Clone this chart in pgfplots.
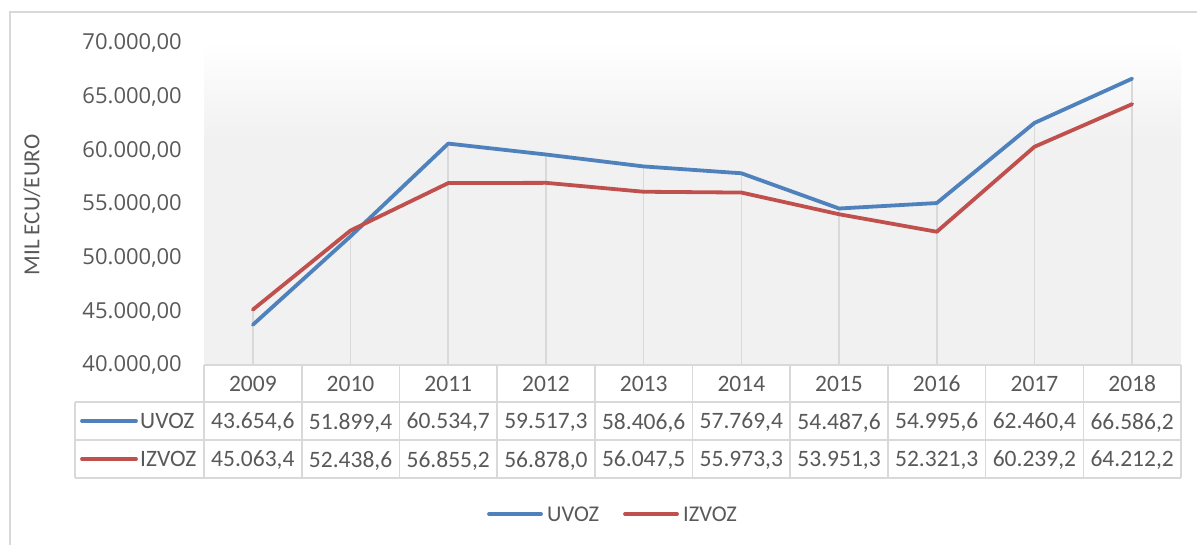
\documentclass[border=0pt]{standalone}
\usepackage{pgfplots}
\pgfplotsset{compat=1.18}
\usepackage{pgfplotstable}
\usepackage{fontspec}
\setmainfont{Carlito}
\newfontfamily\osans{Open Sans}
\definecolor{txt}{HTML}{595959}
\definecolor{cblue}{HTML}{4F81BD}
\definecolor{cred}{HTML}{C0504D}
\definecolor{grd}{HTML}{D9D9D9}
\definecolor{bgg}{HTML}{F1F1F1}
\pgfdeclareverticalshading{plotbg}{100bp}{color(0bp)=(bgg); color(25bp)=(bgg); color(60bp)=(bgg); color(75bp)=(white); color(100bp)=(white)}
\newcommand\tabfont{\fontsize{23.5}{28}\selectfont}
\newcommand\cell[3]{\node[font=\tabfont, text=txt, inner sep=0pt, text depth=0pt] at ({204+97.7*(#1+0.5)}, {544-#2}) {#3};}

\pgfplotstableread{
x uvoz izvoz mx
0 43654.6 45063.4 45063.4
1 51899.4 52438.6 52438.6
2 60534.7 56855.2 60534.7
3 59517.3 56878.0 59517.3
4 58406.6 56047.5 58406.6
5 57769.4 55973.3 57769.4
6 54487.6 53951.3 54487.6
7 54995.6 52321.3 54995.6
8 62460.4 60239.2 62460.4
9 66586.2 64212.2 66586.2
}\data

\begin{document}
\begin{tikzpicture}[x=1pt,y=1pt]
\useasboundingbox (0,0) rectangle (1197,544);
\draw[grd, line width=1.2pt] (10,-10) -- (10,532) -- (1210,532);
\begin{axis}[
  at={(204pt,180pt)}, anchor=south west,
  scale only axis, width=977pt, height=322pt,
  xmin=-0.5, xmax=9.5, ymin=40000, ymax=70000,
  scaled y ticks=false,
  ytick={40000,45000,50000,55000,60000,65000,70000},
  yticklabels={{40.000,00},{45.000,00},{50.000,00},{55.000,00},{60.000,00},{65.000,00},{70.000,00}},
  xtick=\empty,
  axis line style={draw=none},
  major tick length=0pt,
  yticklabel style={font=\osans\fontsize{22}{26}\selectfont, text=txt, inner sep=0pt, text depth=0pt, xshift=-22pt},
  axis background/.style={shading=plotbg},
]
\addplot[ycomb, draw=grd, line width=1.6pt, no markers] table[x=x,y=mx]{\data};
\addplot[cblue, line width=3.8pt, line cap=round, line join=round, no markers] table[x=x,y=uvoz]{\data};
\addplot[cred, line width=3.8pt, line cap=round, line join=round, no markers] table[x=x,y=izvoz]{\data};
\end{axis}
% y label
\node[rotate=90, font=\fontsize{23}{27}\selectfont, text=txt, inner sep=0pt] at (32,{544-205}) {MIL ECU/EURO};
% data table grid
\draw[grd, line width=1.6pt] (204,{544-365}) -- (1181,{544-365});
\foreach \yy in {402,440,478} \draw[grd, line width=1.6pt] (75,{544-\yy}) -- (1181,{544-\yy});
\draw[grd, line width=1.6pt] (75,{544-402}) -- (75,{544-478});
\foreach \k in {0,...,10} \draw[grd, line width=1.6pt] ({204+97.7*\k},{544-365}) -- ({204+97.7*\k},{544-478});
% header row
\cell{0}{383.5}{2009}\cell{1}{383.5}{2010}\cell{2}{383.5}{2011}\cell{3}{383.5}{2012}\cell{4}{383.5}{2013}
\cell{5}{383.5}{2014}\cell{6}{383.5}{2015}\cell{7}{383.5}{2016}\cell{8}{383.5}{2017}\cell{9}{383.5}{2018}
% UVOZ row
\cell{0}{421}{43.654,6}\cell{1}{421}{51.899,4}\cell{2}{421}{60.534,7}\cell{3}{421}{59.517,3}\cell{4}{421}{58.406,6}
\cell{5}{421}{57.769,4}\cell{6}{421}{54.487,6}\cell{7}{421}{54.995,6}\cell{8}{421}{62.460,4}\cell{9}{421}{66.586,2}
% IZVOZ row
\cell{0}{459}{45.063,4}\cell{1}{459}{52.438,6}\cell{2}{459}{56.855,2}\cell{3}{459}{56.878,0}\cell{4}{459}{56.047,5}
\cell{5}{459}{55.973,3}\cell{6}{459}{53.951,3}\cell{7}{459}{52.321,3}\cell{8}{459}{60.239,2}\cell{9}{459}{64.212,2}
% legend keys in table
\draw[cblue, line width=3.8pt, line cap=round] (82,{544-421}) -- (136,{544-421});
\node[anchor=west, font=\tabfont, text=txt, inner sep=0pt, text depth=0pt] at (140,{544-421}) {UVOZ};
\draw[cred, line width=3.8pt, line cap=round] (82,{544-459}) -- (136,{544-459});
\node[anchor=west, font=\tabfont, text=txt, inner sep=0pt, text depth=0pt] at (140,{544-459}) {IZVOZ};
% bottom legend
\draw[cblue, line width=3.8pt, line cap=round] (489,{544-514}) -- (541,{544-514});
\node[anchor=west, font=\fontsize{22.5}{27}\selectfont, text=txt, inner sep=0pt, text depth=0pt] at (547,{544-514}) {UVOZ};
\draw[cred, line width=3.8pt, line cap=round] (625,{544-514}) -- (677,{544-514});
\node[anchor=west, font=\fontsize{22.5}{27}\selectfont, text=txt, inner sep=0pt, text depth=0pt] at (683,{544-514}) {IZVOZ};
\end{tikzpicture}
\end{document}
